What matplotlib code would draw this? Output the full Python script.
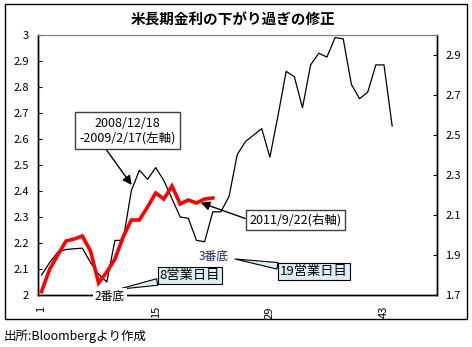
import matplotlib
matplotlib.use("Agg")
import matplotlib.pyplot as plt
from matplotlib.patches import Rectangle
from matplotlib.ticker import FixedLocator, FuncFormatter

plt.rcParams['font.family'] = ['Noto Sans CJK JP', 'DejaVu Sans']

# --------- data ---------
# 2008/12/18 - 2009/2/17, left axis
black_days = list(range(1, 45))
black_vals = [2.077, 2.125, 2.165, 2.175, 2.178, 2.18, 2.125, 2.08, 2.05, 2.21,
              2.21, 2.40, 2.48, 2.445, 2.49, 2.44, 2.37, 2.30, 2.295, 2.21,
              2.205, 2.32, 2.32, 2.38, 2.54, 2.59, 2.615, 2.64, 2.53, 2.69,
              2.86, 2.84, 2.72, 2.885, 2.93, 2.915, 2.99, 2.985, 2.81, 2.755,
              2.78, 2.885, 2.885, 2.65]
# 2011/9/22 -, right axis
red_days = list(range(1, 23))
red_vals = [1.717, 1.83, 1.90, 1.97, 1.98, 1.995, 1.92, 1.76, 1.815, 1.88,
            1.99, 2.075, 2.075, 2.14, 2.21, 2.18, 2.245, 2.155, 2.175, 2.16,
            2.18, 2.185]

x_ticks = [1, 15, 29, 43]
left_ticks = [2.0, 2.1, 2.2, 2.3, 2.4, 2.5, 2.6, 2.7, 2.8, 2.9, 3.0]
right_ticks = [1.7, 1.9, 2.1, 2.3, 2.5, 2.7, 2.9]

title = "米長期金利の下がり過ぎの修正"
source = "出所:Bloombergより作成"

# --------- figure ---------
W, H = 472, 347
fig = plt.figure(figsize=(W / 100, H / 100), dpi=100)
fig.patch.set_facecolor('white')

# outer chart frame
fig.patches.append(Rectangle((5 / W, 1 - 319 / H), 462 / W, 315 / H,
                             transform=fig.transFigure, fill=False,
                             edgecolor='black', linewidth=1.0))

ax = fig.add_axes([37.5 / W, 1 - 295 / H, 399.5 / W, 260 / H])
ax2 = ax.twinx()

ax.plot(black_days, black_vals, color='black', linewidth=0.9)
ax2.plot(red_days, red_vals, color='#FF0000', linewidth=2.6, solid_joinstyle='miter')

ax.set_xlim(0.5, 49.5)
ax.set_ylim(2.0, 3.0)
ax2.set_ylim(1.7, 3.0)

fmt = FuncFormatter(lambda v, p: f"{v:g}")
ax.yaxis.set_major_locator(FixedLocator(left_ticks))
ax.yaxis.set_major_formatter(fmt)
ax2.yaxis.set_major_locator(FixedLocator(right_ticks))
ax2.yaxis.set_major_formatter(fmt)
ax.set_xticks(x_ticks)
ax.set_xticklabels([str(t) for t in x_ticks], rotation=90, fontsize=8)

ax.tick_params(axis='y', direction='in', length=3, width=0.8, labelsize=8, pad=6)
ax2.tick_params(axis='y', direction='in', length=3, width=0.8, labelsize=8, pad=6)
ax.tick_params(axis='x', length=0, pad=8)

for a in (ax, ax2):
    a.spines['top'].set_color('#808080')
    for s in ('left', 'right', 'bottom'):
        a.spines[s].set_color('black')
        a.spines[s].set_linewidth(1.0)

fig.text(233 / W, 1 - 20 / H, title, ha='center', va='center',
         fontsize=10.5, fontweight='bold')
fig.text(4 / W, 1 - 336 / H, source, ha='left', va='center', fontsize=9)

# --------- annotations (right-axis units) ---------
arrow = dict(arrowstyle='-|>,head_length=0.6,head_width=0.3', color='black',
             linewidth=1.0, shrinkA=0, shrinkB=0)

ax2.annotate("2008/12/18\n-2009/2/17(左軸)", xy=(12.05, 2.25), xytext=(11.54, 2.5225),
             ha='center', va='center', fontsize=9, linespacing=1.15,
             bbox=dict(boxstyle='square,pad=0.35', fc='white', ec='#404040', lw=1.0),
             arrowprops=dict(relpos=(0.24, 0.0), **arrow), zorder=5)

ax2.annotate("2011/9/22(右軸)", xy=(20.52, 2.1615), xytext=(32.15, 2.075),
             ha='center', va='center', fontsize=9,
             bbox=dict(boxstyle='square,pad=0.3', fc='white', ec='#404040', lw=1.0),
             arrowprops=dict(relpos=(0.0, 0.5), **arrow), zorder=5)

callout_bbox = dict(boxstyle='square,pad=0.15', fc='#DAEEF3', ec='black', lw=0.8)
wedge = dict(arrowstyle='wedge,tail_width=0.5,shrink_factor=0.5', fc='#DAEEF3',
             ec='black', lw=0.8, shrinkA=0, shrinkB=0)

ax2.annotate("8営業日目", xy=(10.41, 1.7285), xytext=(19.17, 1.7955),
             ha='center', va='center', fontsize=9.5, bbox=callout_bbox,
             arrowprops=wedge, zorder=6, annotation_clip=False)

ax2.annotate("19営業日目", xy=(24.72, 1.88), xytext=(34.38, 1.817),
             ha='center', va='center', fontsize=9.5, bbox=callout_bbox,
             arrowprops=wedge, zorder=6, annotation_clip=False)

ax2.text(22.06, 1.8915, "3番底", ha='center', va='center', fontsize=8.5,
         color='#1F2A6B', zorder=6)
ax2.text(9.39, 1.6915, "2番底", ha='center', va='center', fontsize=8.5,
         color='black', clip_on=False, zorder=6,
         bbox=dict(boxstyle='square,pad=0.2', fc='white', ec='none'))

fig.savefig("out.png", dpi=100)
